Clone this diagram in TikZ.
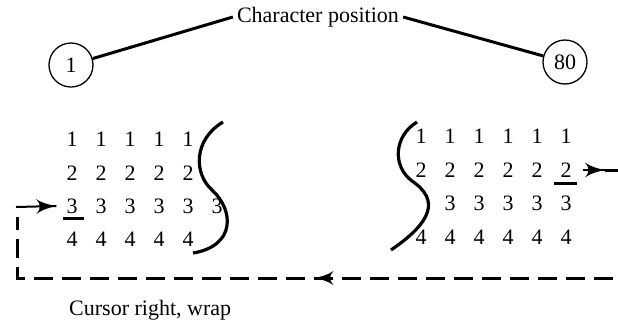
\documentclass[tikz,border=0pt]{standalone}
\usepackage{fontspec}
\setmainfont{Liberation Serif}
\usetikzlibrary{arrows}
\usetikzlibrary{decorations.markings}
\usetikzlibrary{positioning}
\tikzset{->-/.style = {decoration={markings,
                                   mark=at position #1 with {\arrow[scale=2.3]{latex'}}},
                       postaction={decorate}}}
\tikzset{-->-/.style = {decoration={markings,
                                    mark=at position #1 with {\arrow[scale=1.6]{latex'}}},
                        postaction={decorate}}}
\tikzset{digit/.style = {inner sep = 0, font = \fontsize{22}{26}\selectfont}}
\tikzset{posn/.style = {draw, circle, line width = 1.3pt, minimum size = 44, inner sep = 0,
                        font = \fontsize{22}{26}\selectfont}}
\tikzset{wrap/.style = {line width = 3pt, dash pattern = on 19pt off 9pt}}

\begin{document}
\begin{tikzpicture}[x=1pt, y=-1pt]
      \clip (0, 0) rectangle (618, 322);
      \node [posn] (one) at (71, 65) {1};
      \node [posn] (eighty) at (565, 62) {80};
      \node [digit, inner sep = 4] (title) at (318, 17) {Character position};
      \draw [line width = 3pt] (one) -- (title.west);
      \draw [line width = 3pt] (title.east) -- (eighty);

      % left block
      \foreach \r/\y in {1/139, 2/173, 3/206, 4/239}
        \foreach \c in {1, ..., 5}
          \node [digit] (l-\r-\c) at ({72 + 29*(\c - 1)}, \y) {\r};
      \node [digit] (l-3-6) at (217, 206) {3};
      \draw [line width = 3.2pt] (223, 122) .. controls (193, 140) and (194, 174) .. (212, 190)
                                  .. controls (234, 210) and (236, 246) .. (193, 253);

      % right block
      \foreach \r/\y in {1/136, 2/170, 4/237}
        \foreach \c in {1, ..., 6}
          \node [digit] (r-\r-\c) at ({421 + 29*(\c - 1)}, \y) {\r};
      \foreach \c in {2, ..., 6}
        \node [digit] (r-3-\c) at ({421 + 29*(\c - 1)}, 203) {3};
      \draw [line width = 3.2pt] (417, 122) .. controls (394, 136) and (392, 166) .. (412, 181)
                                  .. controls (440, 200) and (432, 222) .. (391, 250);

      % cursor marks
      \draw [line width = 2.2pt] ([xshift = -9pt, yshift = -5pt]l-3-1.south)
                               -- ([xshift = 12pt, yshift = -5pt]l-3-1.south);
      \draw [line width = 2.2pt] ([xshift = -12pt, yshift = -6pt]r-2-6.south)
                               -- ([xshift = 11pt, yshift = -6pt]r-2-6.south);

      % wrap round
      \coordinate (entry) at (16, 207);
      \coordinate (exit) at (605, 170);
      \draw [line width = 2pt, ->-=1] (entry) -- ([xshift = -10pt]l-3-1.west);
      \draw [line width = 2pt, ->-=1] ([xshift = 11pt]r-2-6.east) -- (exit);
      \draw [wrap, -->-=0.55] (exit) -- (625, 170) -- (625, 278) -- (17, 278) -- (17, 217);

      \node [digit, anchor = west] (caption) at (69, 310) {Cursor right, wrap};
\end{tikzpicture}
\end{document}
